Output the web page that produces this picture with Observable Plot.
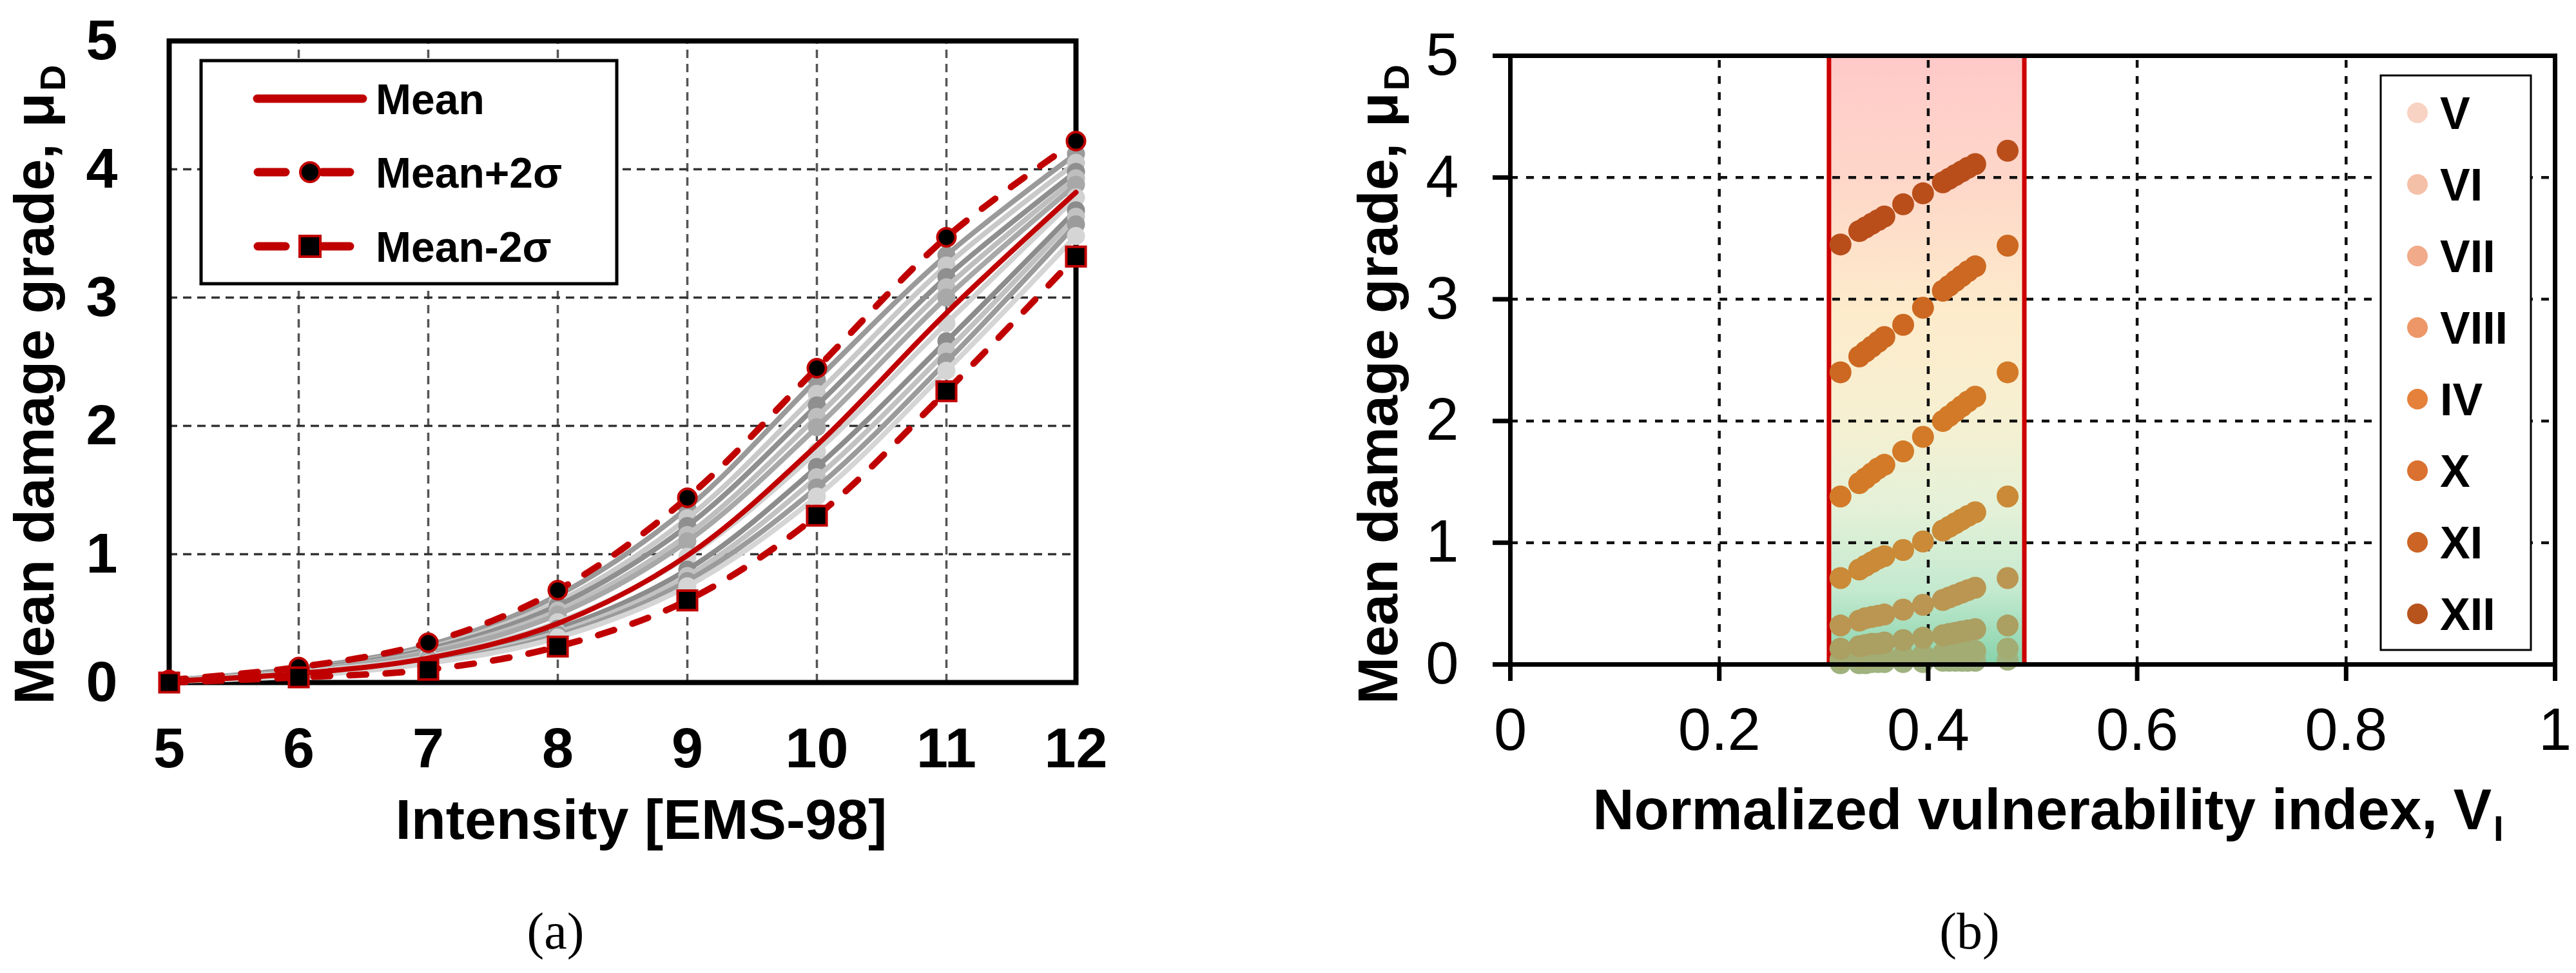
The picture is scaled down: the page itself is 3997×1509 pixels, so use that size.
<!DOCTYPE html>
<html>
<head>
<meta charset="utf-8">
<script src="https://cdn.jsdelivr.net/npm/d3@7"></script>
<script src="https://cdn.jsdelivr.net/npm/@observablehq/plot@0.6"></script>
<style>
html, body { margin: 0; padding: 0; background: #fff; }
body { width: 3997px; height: 1509px; position: relative; overflow: hidden; }
.abs { position: absolute; }
</style>
</head>
<body>
<div id="pa" class="abs" style="left:0;top:0;width:1800px;height:1340px"></div>
<div id="pb" class="abs" style="left:2000px;top:0;width:1997px;height:1340px"></div>
<div id="ov" class="abs" style="left:0;top:0;width:3997px;height:1509px;pointer-events:none"></div>
<script>
// ---------------- DATA : panel (a) ----------------
const intensities = [5, 6, 7, 8, 9, 10, 11, 12];
const meanCurve   = [0.01, 0.07, 0.19, 0.46, 0.99, 1.85, 2.88, 3.82];
const meanPlus2s  = [0.02, 0.12, 0.31, 0.72, 1.44, 2.45, 3.47, 4.22];
const meanMinus2s = [0.00, 0.04, 0.10, 0.28, 0.64, 1.30, 2.27, 3.32];
const typologyCurves = [
  [0.02, 0.11, 0.29, 0.68, 1.36, 2.36, 3.33, 4.12],
  [0.02, 0.10, 0.27, 0.63, 1.28, 2.25, 3.25, 4.05],
  [0.02, 0.10, 0.26, 0.60, 1.22, 2.16, 3.16, 3.98],
  [0.02, 0.09, 0.24, 0.56, 1.15, 2.07, 3.08, 3.93],
  [0.01, 0.09, 0.23, 0.53, 1.10, 1.99, 3.00, 3.88],
  [0.01, 0.08, 0.20, 0.47, 0.98, 1.80, 2.80, 3.78],
  [0.01, 0.07, 0.18, 0.42, 0.88, 1.68, 2.66, 3.68],
  [0.01, 0.06, 0.17, 0.39, 0.83, 1.60, 2.58, 3.63],
  [0.01, 0.06, 0.16, 0.37, 0.79, 1.52, 2.50, 3.57],
  [0.01, 0.05, 0.15, 0.35, 0.75, 1.45, 2.43, 3.48]
];
const xTicksA = [5, 6, 7, 8, 9, 10, 11, 12];
const yTicks = [0, 1, 2, 3, 4, 5];
const legendLabelsA = ["Mean", "Mean+2σ", "Mean-2σ"];
const xTitleA = "Intensity [EMS-98]";
const yTitle = "Mean damage grade, μ";
const yTitleSub = "D";

// ---------------- DATA : panel (b) ----------------
const intensityNames = ["V", "VI", "VII", "VIII", "IV", "X", "XI", "XII"];
const vulnerabilityIdx = [0.316, 0.334, 0.340, 0.346, 0.352, 0.358, 0.376, 0.395, 0.414, 0.420, 0.426, 0.432, 0.438, 0.445, 0.476];
const damageV    = [0.01, 0.01, 0.01, 0.02, 0.02, 0.02, 0.02, 0.02, 0.03, 0.03, 0.03, 0.03, 0.03, 0.03, 0.04];
const damageVI   = [0.04, 0.05, 0.05, 0.06, 0.06, 0.06, 0.07, 0.08, 0.09, 0.09, 0.10, 0.10, 0.11, 0.11, 0.13];
const damageVII  = [0.13, 0.15, 0.16, 0.17, 0.17, 0.18, 0.20, 0.22, 0.24, 0.25, 0.26, 0.27, 0.28, 0.29, 0.32];
const damageVIII = [0.32, 0.36, 0.38, 0.39, 0.40, 0.41, 0.45, 0.49, 0.53, 0.55, 0.57, 0.59, 0.61, 0.63, 0.71];
const damageIX   = [0.71, 0.78, 0.81, 0.84, 0.87, 0.89, 0.94, 1.01, 1.10, 1.13, 1.16, 1.19, 1.22, 1.25, 1.38];
const damageX    = [1.38, 1.49, 1.53, 1.57, 1.61, 1.64, 1.75, 1.87, 2.00, 2.04, 2.08, 2.12, 2.16, 2.20, 2.40];
const damageXI   = [2.40, 2.53, 2.57, 2.61, 2.65, 2.69, 2.79, 2.93, 3.07, 3.11, 3.15, 3.19, 3.23, 3.27, 3.44];
const damageXII  = [3.45, 3.56, 3.59, 3.62, 3.65, 3.68, 3.78, 3.87, 3.96, 3.99, 4.02, 4.05, 4.08, 4.11, 4.22];
const damageSeries = [damageV, damageVI, damageVII, damageVIII, damageIX, damageX, damageXI, damageXII];
const vulnerabilityRange = [0.305, 0.492];
const xTicksB = [0, 0.2, 0.4, 0.6, 0.8, 1];
const xTitleB = "Normalized vulnerability index, V";
const xTitleBSub = "I";
const panelCaptions = ["(a)", "(b)"];

// ---------------- STYLES ----------------
const FONT = "'Liberation Sans', Arial, Helvetica, sans-serif";
const SERIF = "'Liberation Serif', 'Times New Roman', serif";
const RED = "#c00000";
const GRAYS = ["#9a9a9a", "#c9c9c9", "#8f8f8f", "#bebebe", "#a8a8a8", "#d2d2d2", "#8c8c8c", "#c2c2c2", "#9b9b9b", "#d5d5d5"];
const POINT_COLORS = ["#9fb27f", "#a3ac72", "#ab9f62", "#ba9652", "#ca8a37", "#d37a28", "#cc6821", "#b94e1b"];
const LEGEND_COLORS = ["#f8d2c2", "#f5c0a8", "#f1aa8a", "#ed9668", "#e5813b", "#da7130", "#cb6424", "#b7531d"];
const BAND_STOPS = [[0, "#ffc9c9"], [0.22, "#fed8c9"], [0.42, "#fdebcb"], [0.6, "#f6f0d2"], [0.75, "#e3f1d8"], [0.88, "#c3e9cf"], [1, "#86d3ab"]];
const fmt = d => String(d);

// ---------------- PANEL (a) ----------------
const rowsOf = (vals) => vals.map((v, i) => ({x: intensities[i], y: v}));

const grayMarks = typologyCurves.flatMap((vals, k) => {
  const rows = rowsOf(vals);
  return [
    Plot.line(rows, {x: "x", y: "y", stroke: GRAYS[k], strokeWidth: 8, curve: "catmull-rom"}),
    Plot.dot(rows, {x: "x", y: "y", r: 14, fill: GRAYS[k]})
  ];
});

const plotA = Plot.plot({
  width: 1800, height: 1340,
  marginLeft: 262, marginRight: 131, marginTop: 63, marginBottom: 282,
  x: {domain: [5, 12], label: null},
  y: {domain: [0, 5], label: null},
  style: {fontFamily: FONT, fontSize: "88px", fontWeight: "bold", color: "#000", background: "transparent", overflow: "visible"},
  marks: [
    Plot.ruleX(xTicksA.slice(1, -1), {y1: 0, y2: 5, stroke: "#555", strokeWidth: 3.5, strokeDasharray: "13,9"}),
    Plot.ruleY(yTicks.slice(1, -1), {x1: 5, x2: 12, stroke: "#333", strokeWidth: 3.5, strokeDasharray: "13,9"}),
    Plot.frame({stroke: "#000", strokeWidth: 8}),
    ...grayMarks,
    Plot.line(rowsOf(meanCurve), {x: "x", y: "y", stroke: RED, strokeWidth: 8, curve: "catmull-rom"}),
    Plot.line(rowsOf(meanPlus2s), {x: "x", y: "y", stroke: RED, strokeWidth: 10, strokeDasharray: "26,30", strokeLinecap: "round", curve: "catmull-rom"}),
    Plot.line(rowsOf(meanMinus2s), {x: "x", y: "y", stroke: RED, strokeWidth: 10, strokeDasharray: "26,30", strokeLinecap: "round", curve: "catmull-rom"}),
    Plot.dot(rowsOf(meanPlus2s), {x: "x", y: "y", r: 14, fill: "#000", stroke: RED, strokeWidth: 4}),
    Plot.dot(rowsOf(meanMinus2s), {x: "x", y: "y", r: 17, symbol: "square", fill: "#000", stroke: RED, strokeWidth: 4}),
    Plot.axisX({ticks: xTicksA, tickFormat: fmt, tickSize: 0, tickPadding: 69, label: null}),
    Plot.axisY({ticks: yTicks, tickFormat: fmt, tickSize: 0, tickPadding: 80, label: null}),
    Plot.text([xTitleA], {text: d => d, frameAnchor: "bottom", textAnchor: "middle", lineAnchor: "bottom", dx: 29, dy: 242, fontSize: 88, fontWeight: "bold"}),
    Plot.text([yTitle], {text: d => d, frameAnchor: "left", rotate: -90, textAnchor: "end", lineAnchor: "bottom", dx: -180, dy: -417, fontSize: 88, fontWeight: "bold"}),
    Plot.text([yTitleSub], {text: d => d, frameAnchor: "left", rotate: -90, textAnchor: "start", lineAnchor: "bottom", dx: -162, dy: -420, fontSize: 56, fontWeight: "bold"})
  ]
});
document.getElementById("pa").appendChild(plotA);

// ---------------- PANEL (b) ----------------
const gradientDefs = () => {
  const defs = d3.create("svg:defs");
  const g = defs.append("linearGradient").attr("id", "bandGrad")
    .attr("x1", 0).attr("y1", 0).attr("x2", 0).attr("y2", 1);
  BAND_STOPS.forEach(([o, c]) => g.append("stop").attr("offset", o).attr("stop-color", c));
  return defs.node();
};

const pointMarks = damageSeries.map((vals, k) =>
  Plot.dot(vals.map((v, i) => ({x: vulnerabilityIdx[i], y: v})), {x: "x", y: "y", r: 17, fill: POINT_COLORS[k]})
);

const plotB = Plot.plot({
  width: 1997, height: 1340,
  marginLeft: 343, marginRight: 33, marginTop: 86, marginBottom: 310,
  x: {domain: [0, 1], label: null},
  y: {domain: [0, 5], label: null},
  style: {fontFamily: FONT, fontSize: "92px", fontWeight: "normal", color: "#000", background: "transparent", overflow: "visible"},
  marks: [
    gradientDefs,
    Plot.rect([vulnerabilityRange], {x1: d => d[0], x2: d => d[1], y1: 0, y2: 5, fill: "url(#bandGrad)"}),
    Plot.ruleX(xTicksB.slice(1, -1), {y1: 0, y2: 5, stroke: "#111", strokeWidth: 4.5, strokeDasharray: "12,13"}),
    Plot.ruleY(yTicks.slice(1, -1), {x1: 0, x2: 1, stroke: "#111", strokeWidth: 4.5, strokeDasharray: "12,13"}),
    Plot.ruleX(vulnerabilityRange, {y1: 0, y2: 5, stroke: "#cc0000", strokeWidth: 7}),
    ...pointMarks,
    Plot.frame({stroke: "#000", strokeWidth: 7}),
    Plot.axisX({ticks: xTicksB, tickFormat: fmt, tickSize: 26, tickPadding: 41, strokeWidth: 7, label: null}),
    Plot.axisY({ticks: yTicks, tickFormat: fmt, tickSize: 27, tickPadding: 53, strokeWidth: 7, label: null}),
    Plot.text([xTitleB], {text: d => d, frameAnchor: "bottom", textAnchor: "end", lineAnchor: "bottom", dx: 712, dy: 255, fontSize: 89, fontWeight: "bold"}),
    Plot.text([xTitleBSub], {text: d => d, frameAnchor: "bottom", textAnchor: "start", lineAnchor: "bottom", dx: 715, dy: 273, fontSize: 56, fontWeight: "bold"}),
    Plot.text([yTitle], {text: d => d, frameAnchor: "left", rotate: -90, textAnchor: "end", lineAnchor: "bottom", dx: -176, dy: -415, fontSize: 88, fontWeight: "bold"}),
    Plot.text([yTitleSub], {text: d => d, frameAnchor: "left", rotate: -90, textAnchor: "start", lineAnchor: "bottom", dx: -158, dy: -418, fontSize: 56, fontWeight: "bold"})
  ]
});
document.getElementById("pb").appendChild(plotB);

// ---------------- LEGENDS & CAPTIONS (overlay) ----------------
const ov = d3.select("#ov").append("svg").attr("width", 3997).attr("height", 1509)
  .style("position", "absolute").style("left", 0).style("top", 0);

// legend (a)
const la = ov.append("g");
la.append("rect").attr("x", 312).attr("y", 94).attr("width", 645).attr("height", 346)
  .attr("fill", "#fff").attr("stroke", "#000").attr("stroke-width", 5);
const legYA = [153, 267, 382];
la.append("line").attr("x1", 399).attr("x2", 563).attr("y1", legYA[0]).attr("y2", legYA[0])
  .attr("stroke", RED).attr("stroke-width", 13).attr("stroke-linecap", "round");
[1, 2].forEach(k => {
  const y = legYA[k];
  la.append("line").attr("x1", 400).attr("x2", 443).attr("y1", y).attr("y2", y)
    .attr("stroke", RED).attr("stroke-width", 13).attr("stroke-linecap", "round");
  la.append("line").attr("x1", 500).attr("x2", 543).attr("y1", y).attr("y2", y)
    .attr("stroke", RED).attr("stroke-width", 13).attr("stroke-linecap", "round");
  if (k === 1) {
    la.append("circle").attr("cx", 481).attr("cy", y).attr("r", 15)
      .attr("fill", "#000").attr("stroke", RED).attr("stroke-width", 4);
  } else {
    la.append("rect").attr("x", 465).attr("y", y - 16).attr("width", 32).attr("height", 32)
      .attr("fill", "#000").attr("stroke", RED).attr("stroke-width", 4);
  }
});
legendLabelsA.forEach((t, k) => {
  la.append("text").attr("x", 583).attr("y", legYA[k]).attr("dy", "0.36em")
    .attr("font-family", FONT).attr("font-size", 66).attr("font-weight", "bold").text(t);
});

// legend (b)
const lb = ov.append("g");
lb.append("rect").attr("x", 3694).attr("y", 117).attr("width", 233).attr("height", 891)
  .attr("fill", "#fff").attr("stroke", "#000").attr("stroke-width", 3);
intensityNames.forEach((t, k) => {
  const y = 175 + k * 111;
  lb.append("circle").attr("cx", 3751).attr("cy", y).attr("r", 16).attr("fill", LEGEND_COLORS[k]);
  lb.append("text").attr("x", 3786).attr("y", y).attr("dy", "0.36em")
    .attr("font-family", FONT).attr("font-size", 70).attr("font-weight", "bold").text(t);
});

// captions
[[862, panelCaptions[0]], [3056, panelCaptions[1]]].forEach(([x, t]) => {
  ov.append("text").attr("x", x).attr("y", 1471).attr("text-anchor", "middle")
    .attr("font-family", SERIF).attr("font-size", 80).text(t);
});
</script>
</body>
</html>
